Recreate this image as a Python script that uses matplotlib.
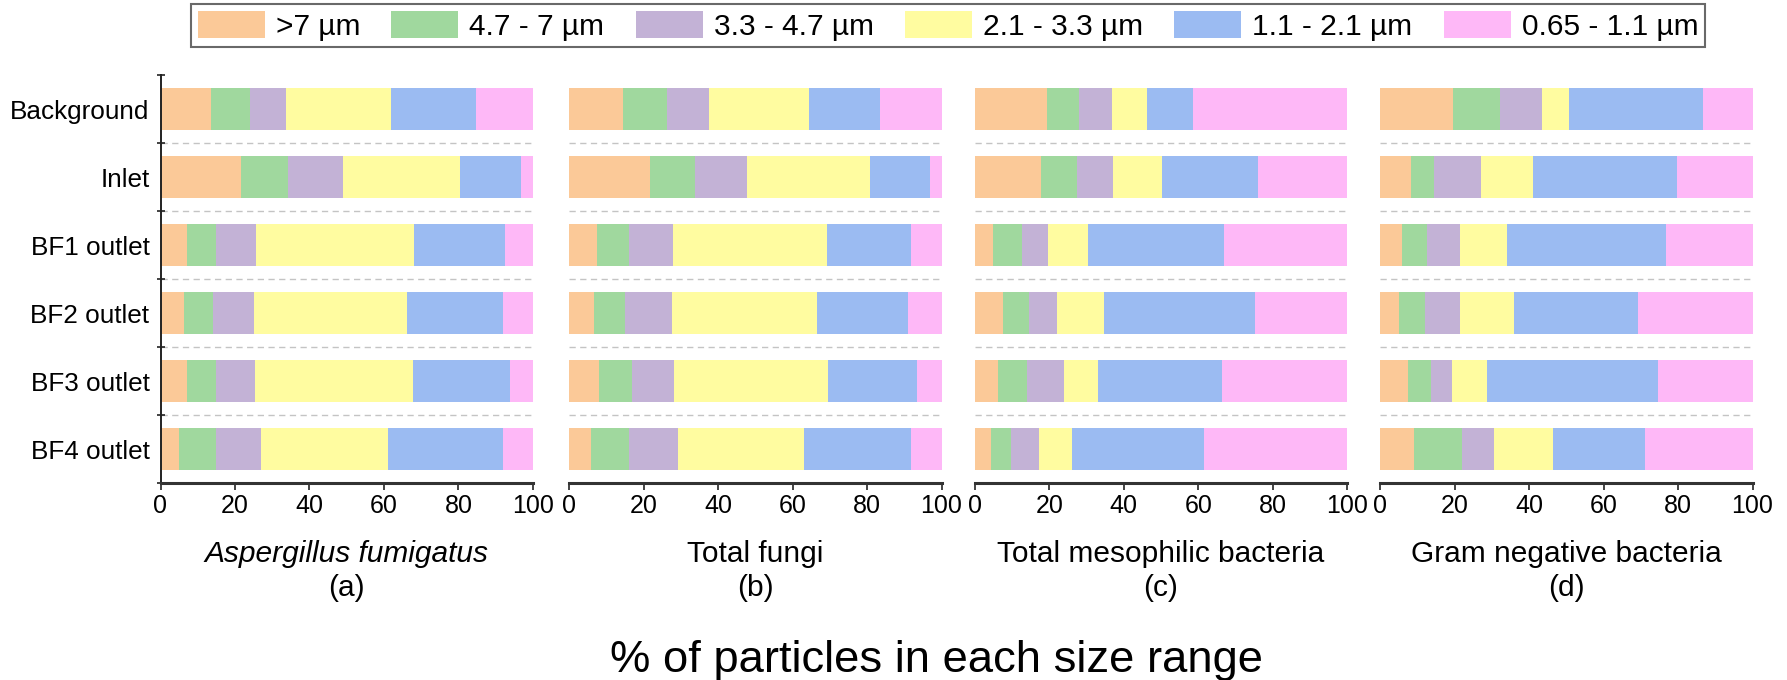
import matplotlib
matplotlib.use("Agg")
import matplotlib.pyplot as plt
import numpy as np

plt.rcParams["font.family"] = ["Liberation Sans", "DejaVu Sans"]

# Sampling sites (rows, top to bottom)
sites = ["Background", "Inlet", "BF1 outlet", "BF2 outlet", "BF3 outlet", "BF4 outlet"]

# Aerodynamic size ranges (stack order, left to right)
size_ranges = [">7 µm", "4.7 - 7 µm", "3.3 - 4.7 µm", "2.1 - 3.3 µm", "1.1 - 2.1 µm", "0.65 - 1.1 µm"]
size_colors = ["#FBC998", "#A0D89E", "#C3B2D6", "#FFFCA0", "#9BBBF2", "#FEB8F7"]

# % of particles in each size range; one inner list per size range, one value per site
aspergillus = [
    [13.5, 21.5, 7.0, 6.3, 7.0, 5.1],
    [10.6, 12.7, 7.8, 7.7, 7.8, 9.7],
    [9.5, 14.9, 10.8, 11.0, 10.6, 12.1],
    [28.4, 31.3, 42.5, 41.2, 42.3, 34.3],
    [22.7, 16.5, 24.4, 25.7, 26.1, 30.8],
    [15.3, 3.1, 7.5, 8.1, 6.2, 8.0],
]
total_fungi = [
    [14.4, 21.7, 7.5, 6.7, 8.1, 5.8],
    [11.9, 12.0, 8.5, 8.4, 8.7, 10.2],
    [11.2, 14.1, 12.0, 12.5, 11.4, 13.3],
    [27.0, 33.1, 41.3, 39.1, 41.2, 33.8],
    [19.1, 16.1, 22.4, 24.3, 24.0, 28.6],
    [16.4, 3.0, 8.3, 9.0, 6.6, 8.3],
]
mesophilic = [
    [19.4, 17.7, 5.0, 7.6, 6.3, 4.4],
    [8.6, 9.8, 7.6, 7.0, 7.8, 5.4],
    [8.8, 9.6, 7.0, 7.5, 9.8, 7.5],
    [9.4, 13.1, 10.7, 12.7, 9.2, 8.8],
    [12.5, 25.9, 36.6, 40.4, 33.4, 35.4],
    [41.3, 23.9, 33.1, 24.8, 33.5, 38.5],
]
gram_negative = [
    [19.7, 8.2, 5.9, 5.2, 7.6, 9.1],
    [12.4, 6.4, 6.8, 6.8, 6.0, 12.8],
    [11.5, 12.6, 8.7, 9.6, 5.6, 8.7],
    [7.2, 14.0, 12.7, 14.3, 9.4, 15.8],
    [35.9, 38.5, 42.6, 33.4, 46.1, 24.8],
    [13.3, 20.3, 23.3, 30.7, 25.3, 28.8],
]

panel_data = [aspergillus, total_fungi, mesophilic, gram_negative]
panel_titles = ["Aspergillus fumigatus", "Total fungi", "Total mesophilic bacteria", "Gram negative bacteria"]
panel_letters = ["(a)", "(b)", "(c)", "(d)"]
x_ticks = [0, 20, 40, 60, 80, 100]

W, H = 1787, 680
fig = plt.figure(figsize=(W / 100, H / 100), dpi=100)

ax_lefts = [160.5, 569.0, 974.7, 1380.0]
ax_width = 372.5
ax_top, ax_bottom = 75.0, 483.3

tick_fs = 18
cat_fs = 18.8
ypos = np.arange(len(sites))

for i, (data, title, letter) in enumerate(zip(panel_data, panel_titles, panel_letters)):
    ax = fig.add_axes([ax_lefts[i] / W, 1 - ax_bottom / H, ax_width / W, (ax_bottom - ax_top) / H])
    left = np.zeros(len(sites))
    for vals, color, name in zip(data, size_colors, size_ranges):
        vals = np.asarray(vals, dtype=float)
        ax.barh(ypos, vals, left=left, height=0.62, color=color, edgecolor="none",
                label=name if i == 0 else None)
        left += vals

    # dashed separators between sites
    for b in np.arange(0.5, len(sites) - 1, 1.0):
        ax.axhline(b, color="#c4c4c4", lw=1.0, ls=(0, (4.5, 3.2)), zorder=0)

    ax.set_xlim(0, 100)
    ax.set_ylim(len(sites) - 0.5, -0.5)
    ax.set_xticks(x_ticks)
    ax.tick_params(axis="x", direction="out", length=5, width=1.2, labelsize=tick_fs, pad=3,
                   color="#222222")
    for s in ["top", "right"]:
        ax.spines[s].set_visible(False)
    ax.spines["bottom"].set_linewidth(2.2)
    ax.spines["bottom"].set_color("#333333")

    if i == 0:
        ax.spines["left"].set_linewidth(1.4)
        ax.spines["left"].set_color("#222222")
        ax.set_yticks(ypos)
        ax.set_yticklabels(sites)
        ax.tick_params(axis="y", which="major", length=0, labelsize=cat_fs, pad=8)
        ax.set_yticks(np.arange(-0.5, len(sites), 1.0), minor=True)
        ax.tick_params(axis="y", which="minor", direction="inout", length=6, width=1.2,
                       color="#222222")
    else:
        ax.spines["left"].set_visible(False)
        ax.set_yticks([])

    cx = (ax_lefts[i] + ax_width / 2) / W
    fig.text(cx, 1 - 562 / H, title, ha="center", va="baseline", fontsize=21.5,
             style="italic" if i == 0 else "normal")
    fig.text(cx, 1 - 596 / H, letter, ha="center", va="baseline", fontsize=21.5)

fig.text(937 / W, 1 - 672 / H, "% of particles in each size range", ha="center",
         va="baseline", fontsize=32.7)

handles, labels = fig.axes[0].get_legend_handles_labels()
leg = fig.legend(handles, labels, loc="upper center", bbox_to_anchor=(948 / W, 1 - 4 / H),
                 ncol=6, fontsize=21.5, frameon=True, fancybox=False, borderaxespad=0,
                 handlelength=2.24, handleheight=1.04, handletextpad=0.37,
                 columnspacing=1.05, borderpad=0.22)
leg.get_frame().set_edgecolor("#444444")
leg.get_frame().set_linewidth(1.5)

fig.savefig("out.png", dpi=100)
